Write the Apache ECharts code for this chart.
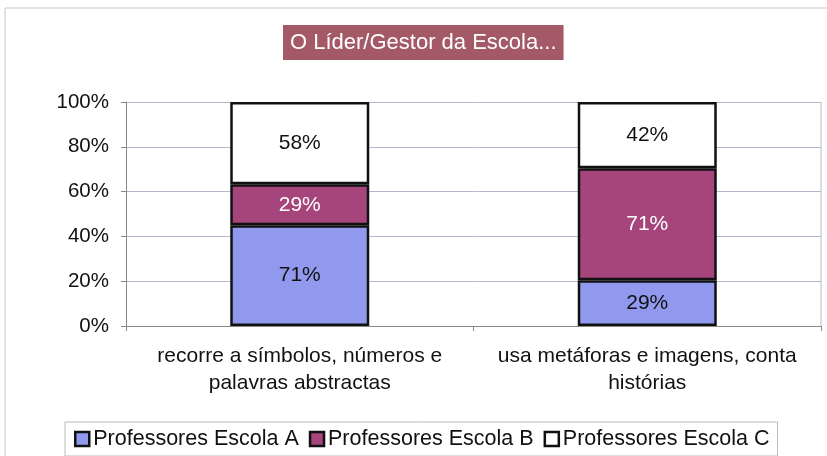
<!DOCTYPE html>
<html>
<head>
	<meta charset="utf-8">
	<title>O Líder/Gestor da Escola...</title>
	<style type="text/css">
		html,body{
			margin: 0;
			width: 100%;
			height: 100%;
			background: #fff;
		}
		#main{
			width: 827px;
			height: 456px;
		}
	</style>
</head>
<body>
<div id="main"></div>
<script src="https://cdn.jsdelivr.net/npm/echarts@6/dist/echarts.min.js"></script>
<script>
    // categorias do eixo x
    var categorias = ['recorre a símbolos, números e\npalavras abstractas', 'usa metáforas e imagens, conta\nhistórias'];
    // valores (rótulos) de cada escola
    var escolaA = [71, 29];
    var escolaB = [29, 71];
    var escolaC = [58, 42];
    var nomes = ['Professores Escola A', 'Professores Escola B', 'Professores Escola C'];
    var cores = ['#9199ee', '#a5457c', '#ffffff'];
    var corTexto = ['#111', '#fff', '#111'];

    // 100% empilhado: normaliza cada categoria
    var totais = categorias.map(function (c, i) {
        return escolaA[i] + escolaB[i] + escolaC[i];
    });
    function pct(arr) {
        return arr.map(function (v, i) { return v / totais[i] * 100; });
    }
    var brutos = [escolaA, escolaB, escolaC];

    var myChart = echarts.init(document.getElementById('main'));
    var fonte = '"Liberation Sans", Arial, sans-serif';

    var series = brutos.map(function (arr, k) {
        return {
            name: nomes[k],
            type: 'bar',
            stack: 'total',
            barWidth: '40%',
            data: pct(arr),
            itemStyle: {
                color: cores[k],
                borderColor: '#111',
                borderWidth: 2.5
            },
            label: {
                show: true,
                position: 'inside',
                fontFamily: fonte,
                fontSize: 21,
                color: corTexto[k],
                formatter: function (p) {
                    return brutos[k][p.dataIndex] + '%';
                }
            }
        };
    });

    var option = {
        animation: false,
        textStyle: { fontFamily: fonte },
        graphic: [{
            type: 'rect',
            shape: { x: 5, y: 8, width: 840, height: 460 },
            style: { fill: 'none', stroke: '#c8c8c8', lineWidth: 1 },
            silent: true
        }, {
            // borda direita da área do gráfico
            type: 'line',
            shape: { x1: 821, y1: 102, x2: 821, y2: 326 },
            style: { stroke: '#b8b8cc', lineWidth: 1 },
            silent: true
        }],
        title: {
            text: 'O Líder/Gestor da Escola...',
            left: 283,
            top: 25,
            backgroundColor: '#a35a66',
            padding: [7, 7, 6, 7],
            textStyle: {
                color: '#fff',
                fontSize: 22,
                fontWeight: 'normal',
                fontFamily: fonte
            }
        },
        legend: {
            data: nomes,
            icon: 'rect',
            bottom: 0,
            left: 65,
            itemWidth: 14,
            itemHeight: 14,
            itemGap: 10,
            borderColor: '#bbb',
            borderWidth: 1,
            padding: [6, 8, 6, 9],
            textStyle: {
                fontSize: 21.5,
                color: '#111',
                padding: [0, 0, 0, -1],
                fontFamily: fonte
            },
            itemStyle: {
                borderColor: '#111',
                borderWidth: 2.5
            }
        },
        grid: {
            left: 126,
            right: 6,
            top: 102,
            bottom: 130
        },
        xAxis: {
            type: 'category',
            data: categorias,
            axisLine: { lineStyle: { color: '#888' } },
            axisTick: { show: true, lineStyle: { color: '#888' } },
            axisLabel: {
                interval: 0,
                hideOverlap: false,
                fontSize: 21,
                color: '#111',
                lineHeight: 27,
                margin: 17
            }
        },
        yAxis: {
            type: 'value',
            min: 0,
            max: 100,
            interval: 20,
            axisLine: { show: true, lineStyle: { color: '#888' } },
            axisTick: { show: true, inside: false, length: 5, lineStyle: { color: '#888' } },
            splitLine: { lineStyle: { color: '#b8b8cc' } },
            axisLabel: {
                fontSize: 20.5,
                color: '#111',
                margin: 17,
                formatter: '{value}%'
            }
        },
        series: series
    };

    myChart.setOption(option);
</script>
</body>
</html>
